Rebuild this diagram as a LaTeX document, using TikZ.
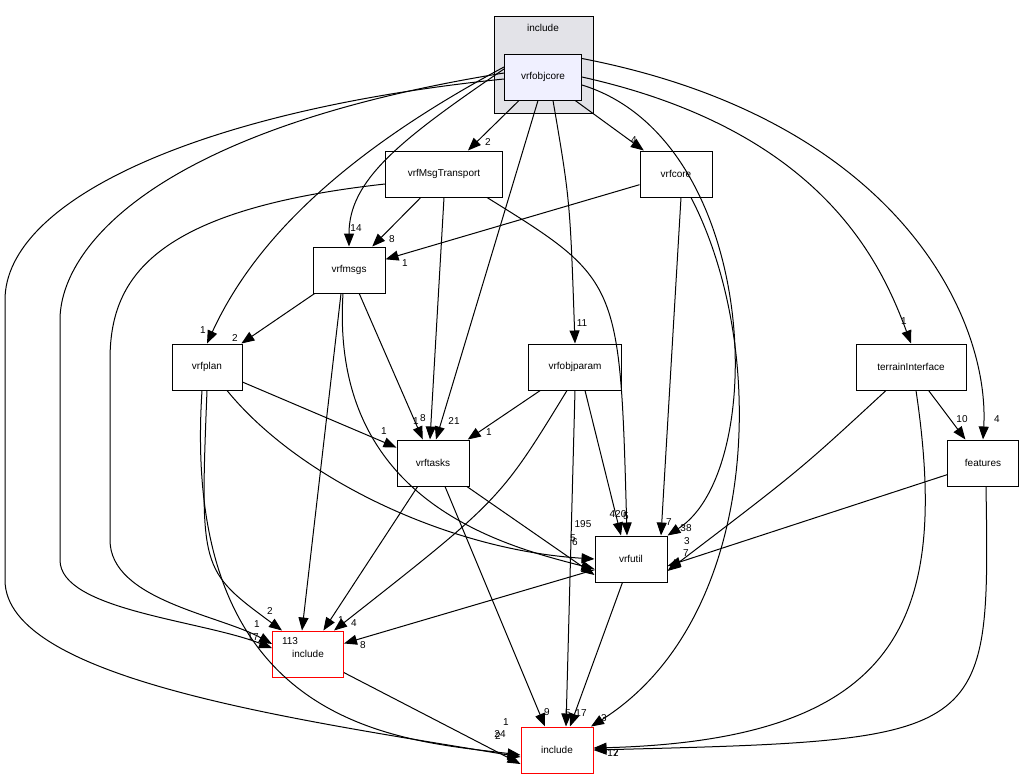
\documentclass[tikz,border=0pt]{standalone}
\usepackage{fontspec}
\setmainfont{Liberation Sans}
\usetikzlibrary{arrows.meta}
\begin{document}
\begin{tikzpicture}[x=1pt,y=-1pt,line width=1pt,
  dir/.style={draw,fill=white,minimum width=72pt,minimum height=46pt,font=\fontsize{10}{12}\selectfont,inner sep=2pt},
  ext/.style={draw=red,fill=white,minimum width=72pt,minimum height=46pt,font=\fontsize{10}{12}\selectfont,inner sep=2pt},
  dep/.style={-{Triangle[length=13pt,width=10pt]}},
  lbl/.style={font=\fontsize{10}{12}\selectfont,inner sep=0pt}]
\useasboundingbox (0,0) rectangle (1027,780);
%
\filldraw[draw=black,fill=blue!10!gray!20] (494,16) rectangle (593,113);
\node[font=\fontsize{10}{12}\selectfont] (clus) at (543,28) {include};
\node[dir,fill=blue!6,minimum width=77pt] (oc) at (543,77) {vrfobjcore};
\node[dir,minimum width=117pt] (mt) at (444,174) {vrfMsgTransport};
\node[dir] (core) at (676,174) {vrfcore};
\node[dir] (ms) at (349,270) {vrfmsgs};
\node[dir,minimum width=70pt] (pl) at (207,367) {vrfplan};
\node[dir,minimum width=93pt] (op) at (575,367) {vrfobjparam};
\node[dir,minimum width=110pt] (ti) at (911,367) {terrainInterface};
\node[dir] (tk) at (433,463) {vrftasks};
\node[dir,minimum width=71pt] (ft) at (983,463) {features};
\node[dir] (vu) at (631,559) {vrfutil};
%
% from vrfobjcore
\draw[dep] (oc) -- (mt);
\draw[dep] (oc) -- (core);
\draw[dep] ([yshift=8pt]oc.west) .. controls (400,140) and (349,180) .. (ms.north);
\draw[dep] ([yshift=10pt]oc.west) .. controls (330,160) and (250,250) .. (pl.north);
\draw[dep] ([xshift=-5pt]oc.south) -- ([xshift=3pt]tk.north);
\draw[dep] ([xshift=10pt]oc.south) .. controls (570,200) .. (op.north);
\draw[dep] (oc.east) .. controls (820,130) and (880,260) .. (ti.north);
\draw[dep] ([yshift=-5pt]oc.north east) .. controls (900,120) and (990,320) .. (ft.north);
\draw[dep] ([yshift=-8pt]oc.east) .. controls (760,140) and (770,470) .. (vu.north east);
\node[ext,minimum width=71pt] (ic1) at (308,654) {include};
\node[ext] (ic2) at (557,750) {include};
\draw[dep] ([yshift=4pt]oc.west) .. controls (150,130) and (60,250) .. (60,320)
  -- (60,560) .. controls (60,610) and (200,620) .. ([yshift=6pt]ic1.west);
\draw[dep] ([yshift=-2pt]oc.west) .. controls (200,110) and (5,200) .. (5,300)
  -- (5,580) .. controls (5,680) and (300,720) .. ([yshift=-7pt]ic2.west);
% from vrfMsgTransport
\draw[dep] (mt) -- (ms);
\draw[dep] (mt.south) -- ([xshift=-3pt]tk.north);
\draw[dep] ([xshift=43pt]mt.south) .. controls (620,280) .. ([xshift=-4pt]vu.north);
\draw[dep] ([yshift=-10pt]mt.west) .. controls (150,210) and (110,280) .. (110,360)
  -- (110,540) .. controls (110,600) and (220,615) .. ([yshift=10pt]ic1.west);
% from vrfcore
\draw[dep] (core) -- (ms);
\draw[dep] ([xshift=5pt]core.south) -- ([xshift=30pt]vu.north);
\draw[dep] ([xshift=15pt]core.south) .. controls (770,350) and (760,620) .. ([xshift=34pt]ic2.north);
% from vrfmsgs
\draw[dep] (ms) -- (pl);
\draw[dep] (ms) -- (tk);
\draw[dep] ([xshift=-6pt]ms.south) .. controls (330,500) and (500,545) .. ([yshift=-10pt]vu.west);
\draw[dep] ([xshift=-8pt]ms.south) -- ([xshift=-6pt]ic1.north);
% from vrfplan
\draw[dep] (pl) -- (tk);
\draw[dep] ([xshift=20pt]pl.south) .. controls (300,480) and (450,550) .. (vu.west);
\draw[dep] (pl.south) .. controls (200,570) .. ([xshift=-26pt]ic1.north);
\draw[dep] ([xshift=-5pt]pl.south) .. controls (180,730) and (400,740) .. ([yshift=-5pt]ic2.west);
% from vrfobjparam
\draw[dep] (op) -- (tk);
\draw[dep] ([xshift=10pt]op.south) -- ([xshift=-10pt]vu.north);
\draw[dep] ([xshift=-8pt]op.south) .. controls (500,500) .. ([xshift=26pt]ic1.north);
\draw[dep] (op.south) -- ([xshift=9pt]ic2.north);
% from terrainInterface
\draw[dep] (ti) -- (ft);
\draw[dep] ([xshift=-25pt]ti.south) .. controls (800,470) .. ([yshift=-12pt]vu.east);
\draw[dep] ([xshift=5pt]ti.south) .. controls (950,620) and (900,740) .. ([yshift=2pt]ic2.east);
% from features
\draw[dep] (ft) -- ([yshift=-7pt]vu.east);
\draw[dep] ([xshift=3pt]ft.south) .. controls (990,740) .. (ic2.east);
% from vrftasks
\draw[dep] (tk) -- ([yshift=-16pt]vu.west);
\draw[dep] (tk) -- (ic1);
\draw[dep] ([xshift=12pt]tk.south) -- ([xshift=-12pt]ic2.north);
% from vrfutil
\draw[dep] (vu) -- (ic1);
\draw[dep] (vu) -- ([xshift=13pt]ic2.north);
\draw[dep] (ic1) -- ([yshift=-14pt]ic2.west);
%
\node[lbl] (l1) at (488,142) {2};
\node[lbl] (l2) at (634,140) {4};
\node[lbl] (l3) at (356,228) {14};
\node[lbl] (l4) at (203,330) {1};
\node[lbl] (l5) at (454,421) {21};
\node[lbl] (l6) at (582,323) {11};
\node[lbl] (l7) at (904,321) {1};
\node[lbl] (l8) at (997,419) {4};
\node[lbl] (l9) at (686,528) {38};
\node[lbl] (l10) at (253,637) {17};
\node[lbl] (l11) at (500,734) {24};
\node[lbl] (l12) at (392,239) {8};
\node[lbl] (l13) at (416,421) {1};
\node[lbl] (l14) at (626,516) {5};
\node[lbl] (l15) at (257,624) {1};
\node[lbl] (l16) at (405,263) {1};
\node[lbl] (l17) at (669,522) {7};
\node[lbl] (l18) at (604,718) {3};
\node[lbl] (l19) at (235,338) {2};
\node[lbl] (l20) at (423,418) {8};
\node[lbl] (l21) at (575,542) {6};
\node[lbl] (l22) at (290,641) {113};
\node[lbl] (l23) at (384,431) {1};
\node[lbl] (l24) at (573,538) {5};
\node[lbl] (l25) at (270,611) {2};
\node[lbl] (l26) at (498,736) {2};
\node[lbl] (l27) at (489,432) {1};
\node[lbl] (l28) at (618,514) {420};
\node[lbl] (l29) at (354,623) {4};
\node[lbl] (l30) at (568,713) {5};
\node[lbl] (l31) at (962,419) {10};
\node[lbl] (l32) at (687,541) {3};
\node[lbl] (l33) at (613,753) {12};
\node[lbl] (l34) at (686,553) {7};
\node[lbl] (l35) at (616,753) {7};
\node[lbl] (l36) at (583,524) {195};
\node[lbl] (l37) at (341,620) {1};
\node[lbl] (l38) at (547,712) {9};
\node[lbl] (l39) at (363,645) {8};
\node[lbl] (l40) at (581,713) {17};
\node[lbl] (l41) at (506,722) {1};
\end{tikzpicture}
\end{document}
